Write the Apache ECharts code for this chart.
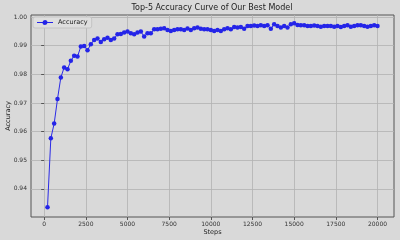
<!DOCTYPE html>
<html>
<head>
<meta charset="utf-8">
<script src="https://cdn.jsdelivr.net/npm/echarts@6/dist/echarts.min.js"></script>
<style>html,body{margin:0;padding:0;background:#d9d9d9;}#c{width:400px;height:240px;}</style>
</head>
<body>
<div id="c"></div>
<script>
const steps = [];
for (let s = 200; s <= 20000; s += 200) steps.push(s);
const accuracy = [
0.9336,0.9577,0.9628,0.9714,0.9789,0.9824,0.9818,0.9847,0.9865,0.9862,
0.9897,0.9899,0.9884,0.9905,0.9920,0.9925,0.9913,0.9922,0.9928,0.9920,
0.9925,0.9940,0.9941,0.9946,0.9949,0.9943,0.9940,0.9946,0.9949,0.9932,
0.9943,0.9943,0.9957,0.9957,0.9959,0.9961,0.9955,0.9951,0.9955,0.9957,
0.9957,0.9955,0.9960,0.9955,0.9961,0.9963,0.9959,0.9957,0.9957,0.9955,
0.9951,0.9955,0.9951,0.9957,0.9961,0.9957,0.9965,0.9963,0.9965,0.9959,
0.9969,0.9969,0.9970,0.9969,0.9971,0.9969,0.9971,0.9959,0.9975,0.9969,
0.9963,0.9969,0.9963,0.9975,0.9978,0.9972,0.9971,0.9971,0.9969,0.9969,
0.9970,0.9969,0.9966,0.9969,0.9969,0.9969,0.9966,0.9969,0.9965,0.9969,
0.9971,0.9966,0.9969,0.9971,0.9971,0.9969,0.9966,0.9969,0.9971,0.9969
];
const xTicks = [0,2500,5000,7500,10000,12500,15000,17500,20000];
const yTicks = [0.94,0.95,0.96,0.97,0.98,0.99,1.00];
const titleText = 'Top-5 Accuracy Curve of Our Best Model';
const seriesName = 'Accuracy';

const font = 'DejaVu Sans';
const chart = echarts.init(document.getElementById('c'), null, {renderer:'canvas'});
chart.setOption({
  backgroundColor: '#d9d9d9',
  animation: false,
  title: {
    text: titleText, left: 212, top: 4, padding: 0, textAlign: 'center',
    textStyle: {fontFamily: font, fontSize: 8, fontWeight: 'normal', color: '#222'}
  },
  legend: {
    left: 33, top: 17, padding: [2,4,2,4],
    backgroundColor: '#dedede', borderColor: '#c4c4c4', borderWidth: 1, borderRadius: 2,
    itemWidth: 16, itemHeight: 5, itemGap: 4,
    textStyle: {fontFamily: font, fontSize: 6.5, color: '#222'},
    data: [{name: seriesName, icon: 'path://M0,4.5 L16,4.5 L16,5.5 L0,5.5 Z M8,2.5 A2.5,2.5 0 1 1 7.99,2.5 Z'}]
  },
  grid: {
    left: 31, right: 6, top: 15, bottom: 23, show: true, containLabel: false, outerBoundsMode: 'none',
    backgroundColor: '#d9d9d9', borderColor: '#555', borderWidth: 1
  },
  xAxis: {
    type: 'value', min: -790, max: 20990,
    name: 'Steps', nameLocation: 'middle', nameGap: 12, nameMoveOverlap: false,
    nameTextStyle: {fontFamily: font, fontSize: 6.5, color: '#222'},
    axisLine: {show: false},
    axisTick: {show: true, length: 3, lineStyle: {color: '#555'}, customValues: xTicks},
    axisLabel: {fontFamily: font, fontSize: 6, color: '#333', margin: 4, customValues: xTicks,
      formatter: v => String(v)},
    splitLine: {show: true, lineStyle: {color: '#b3b3b3', width: 0.8}}
  },
  yAxis: {
    type: 'value', min: 0.9302, max: 1.0007,
    name: 'Accuracy', nameLocation: 'middle', nameGap: 19, nameMoveOverlap: false,
    nameTextStyle: {fontFamily: font, fontSize: 6.5, color: '#222'},
    axisLine: {show: false},
    axisTick: {show: true, length: 3, lineStyle: {color: '#555'}, customValues: yTicks},
    axisLabel: {fontFamily: font, fontSize: 6, color: '#333', margin: 4, customValues: yTicks,
      formatter: v => v.toFixed(2)},
    splitLine: {show: true, lineStyle: {color: '#b3b3b3', width: 0.8}}
  },
  series: [{
    name: seriesName, type: 'line',
    data: steps.map((s, i) => [s, accuracy[i]]),
    symbol: 'circle', symbolSize: 4.5,
    lineStyle: {color: '#2b2be6', width: 1},
    itemStyle: {color: '#2424e8'}
  }]
});
</script>
</body>
</html>
